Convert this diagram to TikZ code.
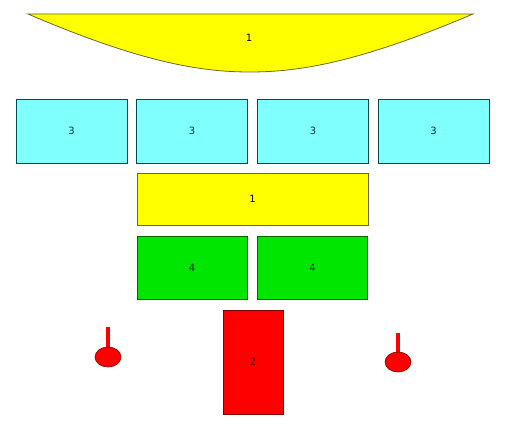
\documentclass[tikz,border=0pt]{standalone}
\usepackage{fontspec}
\setmainfont{DejaVu Sans}
\definecolor{lampred}{RGB}{255,0,0}
\definecolor{boxcyan}{RGB}{128,255,255}
\definecolor{boxyellow}{RGB}{255,255,0}
\definecolor{boxgreen}{RGB}{0,230,0}
\tikzset{
  panel/.style={draw, line width=0.8pt, inner sep=0pt, font=\fontsize{10}{12}\selectfont},
  cyanbox/.style={panel, fill=boxcyan, draw=teal!60!black, text=teal!40!black, minimum width=111pt, minimum height=64pt},
  greenbox/.style={panel, fill=boxgreen, draw=green!40!black, text=green!20!black, minimum width=110pt, minimum height=63pt},
  yellowbox/.style={panel, fill=boxyellow, draw=olive!70!black, text=black},
  redbox/.style={panel, fill=lampred, draw=red!50!black, text=red!40!black},
  lamp/.style={fill=lampred, draw=red!50!black, line width=0.6pt}
}
\begin{document}
\begin{tikzpicture}[x=1pt,y=-1pt]
    \useasboundingbox (0,0) rectangle (509,430);

    % top hood
    \draw[fill=boxyellow, draw=olive!70!black, line width=0.8pt]
      (28,14) .. controls (140,62) and (200,72) .. (250,72)
      .. controls (300,72) and (360,62) .. (473,14) -- cycle;
    \node[font=\fontsize{10}{12}\selectfont] (hood) at (249,38) {1};

    % upper row
    \node[cyanbox] (c1) at (71.5,131) {3};
    \node[cyanbox] (c2) at (192,131) {3};
    \node[cyanbox] (c3) at (313,131) {3};
    \node[cyanbox] (c4) at (433.5,131) {3};

    \node[yellowbox, minimum width=231pt, minimum height=52pt] (bar) at (252.5,199) {1};

    \node[greenbox] (g1) at (192,267.5) {4};
    \node[greenbox] (g2) at (312.5,267.5) {4};

    \node[redbox, minimum width=60pt, minimum height=104pt] (stand) at (253,362) {2};

    % lamps
    \fill[lampred] (106,327) rectangle (109.5,348);
    \draw[lamp] (108,357) ellipse (13pt and 10pt);
    \fill[lampred] (396,333) rectangle (399.5,353);
    \draw[lamp] (398,362) ellipse (13pt and 10pt);
  \end{tikzpicture}
\end{document}
